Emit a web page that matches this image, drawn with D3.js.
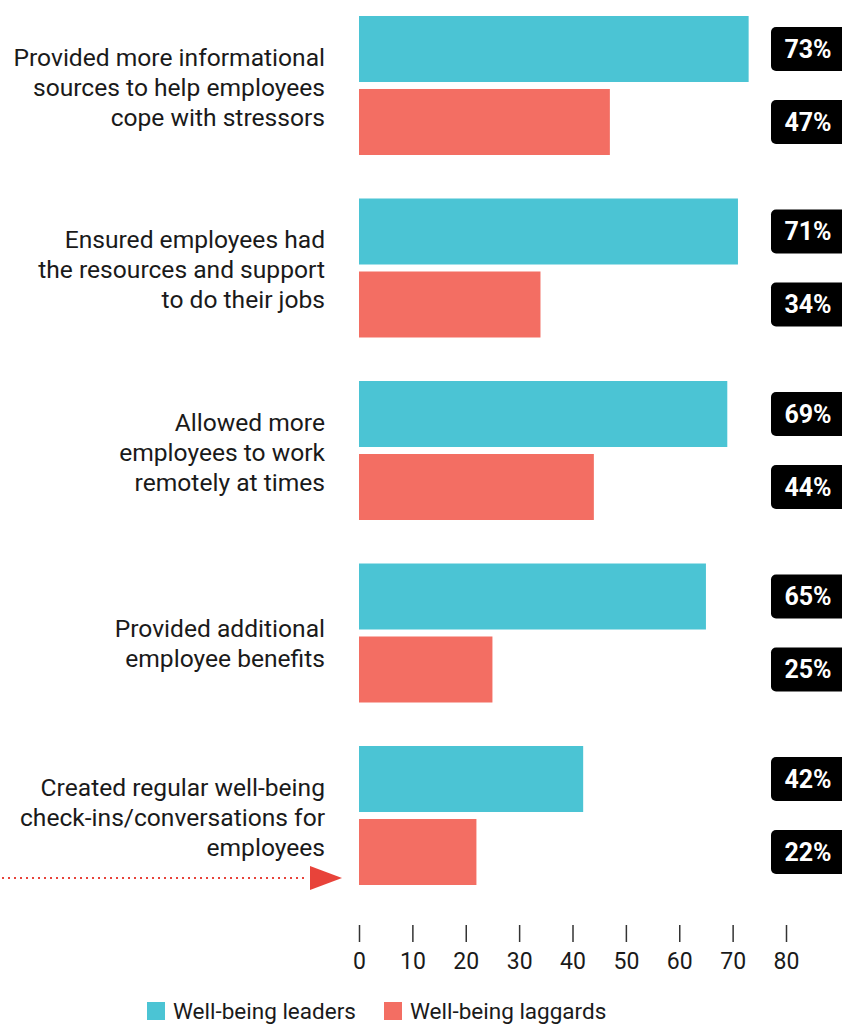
<!DOCTYPE html>
<html>
<head>
<meta charset="utf-8">
<script src="https://cdn.jsdelivr.net/npm/d3@7/dist/d3.min.js"></script>
<style>
  html, body { margin: 0; padding: 0; background: #fff; }
  svg { display: block; font-family: Roboto, "Noto Sans", sans-serif; }
</style>
</head>
<body>
<svg id="chart" width="842" height="1024"></svg>
<script>
// Actions taken by organisations, share of respondents (%)
const categories = [
  ["Provided more informational", "sources to help employees", "cope with stressors"],
  ["Ensured employees had", "the resources and support", "to do their jobs"],
  ["Allowed more", "employees to work", "remotely at times"],
  ["Provided additional", "employee benefits"],
  ["Created regular well-being", "check-ins/conversations for", "employees"]
];
const seriesNames = ["Well-being leaders", "Well-being laggards"];
const leaders = [73, 71, 69, 65, 42];
const laggards = [47, 34, 44, 25, 22];
const tickValues = [0, 10, 20, 30, 40, 50, 60, 70, 80];

const colors = { leaders: "#4bc4d4", laggards: "#f36e63" };

const svg = d3.select("#chart");

const x = d3.scaleLinear().domain([0, 80]).range([359, 786]);

const groupKeys = categories.map((_, i) => i);
const y = d3.scaleBand()
  .domain(groupKeys)
  .range([16, 885])
  .paddingInner(0.2384)
  .paddingOuter(0);

const ySeries = d3.scaleBand()
  .domain(["leaders", "laggards"])
  .range([0, y.bandwidth()])
  .paddingInner(0.0959)
  .paddingOuter(0);

const rows = groupKeys.map(i => ({
  i,
  lines: categories[i],
  values: [
    { key: "leaders", value: leaders[i] },
    { key: "laggards", value: laggards[i] }
  ]
}));

// Category labels, right aligned beside the bars
const labelX = 325;
rows.forEach(r => {
  const center = y(r.i) + y.bandwidth() / 2;
  const n = r.lines.length;
  const first = center - 19.5 + (3 - n) * 23;
  const t = svg.append("text")
    .attr("text-anchor", "end")
    .attr("font-size", 24.6)
    .attr("fill", "#1a1a1a");
  r.lines.forEach((line, k) => {
    t.append("tspan").attr("x", labelX).attr("y", first + k * 30).text(line);
  });
});

// Bars and value badges
const groups = svg.selectAll("g.group")
  .data(rows)
  .join("g")
  .attr("class", "group")
  .attr("transform", d => `translate(0,${y(d.i)})`);

groups.selectAll("rect.bar")
  .data(d => d.values)
  .join("rect")
  .attr("class", "bar")
  .attr("x", x(0))
  .attr("y", d => ySeries(d.key))
  .attr("width", d => x(d.value) - x(0))
  .attr("height", ySeries.bandwidth())
  .attr("fill", d => colors[d.key]);

const badgeH = 44;
const badge = groups.selectAll("g.badge")
  .data(d => d.values)
  .join("g")
  .attr("class", "badge")
  .attr("transform", d => `translate(771,${ySeries(d.key) + ySeries.bandwidth() / 2})`);

badge.append("rect")
  .attr("x", 0)
  .attr("y", -badgeH / 2)
  .attr("width", 80)
  .attr("height", badgeH)
  .attr("rx", 5)
  .attr("fill", "#000");

badge.append("text")
  .attr("x", 37)
  .attr("y", 0)
  .attr("dy", "0.355em")
  .attr("text-anchor", "middle")
  .attr("font-size", 25)
  .attr("font-weight", 700)
  .attr("fill", "#fff")
  .text(d => d.value + "%");

// Bottom axis with short ticks and no domain line
const axis = d3.axisBottom(x)
  .tickValues(tickValues)
  .tickSize(17)
  .tickPadding(11)
  .tickFormat(d3.format("d"));

const axisG = svg.append("g")
  .attr("transform", "translate(0,925)")
  .call(axis);
axisG.select(".domain").remove();
axisG.selectAll(".tick line").attr("stroke", "#333").attr("stroke-width", 1.5);
axisG.selectAll(".tick text")
  .attr("font-family", "Roboto, sans-serif")
  .attr("font-size", 23)
  .attr("fill", "#1a1a1a");

// Dotted pointer arrow toward the last bar
const arrowY = y(4) + ySeries("laggards") + ySeries.bandwidth() - 7;
svg.append("line")
  .attr("x1", 2)
  .attr("x2", 308)
  .attr("y1", arrowY)
  .attr("y2", arrowY)
  .attr("stroke", "#e8433a")
  .attr("stroke-width", 2)
  .attr("stroke-dasharray", "2,4");
svg.append("path")
  .attr("d", `M310,${arrowY - 12}L342,${arrowY}L310,${arrowY + 12}Z`)
  .attr("fill", "#e8433a");

// Legend
const legendItems = [
  { name: seriesNames[0], key: "leaders", x: 147 },
  { name: seriesNames[1], key: "laggards", x: 384 }
];
const lg = svg.selectAll("g.legend")
  .data(legendItems)
  .join("g")
  .attr("class", "legend")
  .attr("transform", d => `translate(${d.x},1002)`);
lg.append("rect")
  .attr("width", 18)
  .attr("height", 18)
  .attr("fill", d => colors[d.key]);
lg.append("text")
  .attr("x", 26)
  .attr("y", 16.5)
  .attr("font-size", 22.5)
  .attr("fill", "#1a1a1a")
  .text(d => d.name);
</script>
</body>
</html>
